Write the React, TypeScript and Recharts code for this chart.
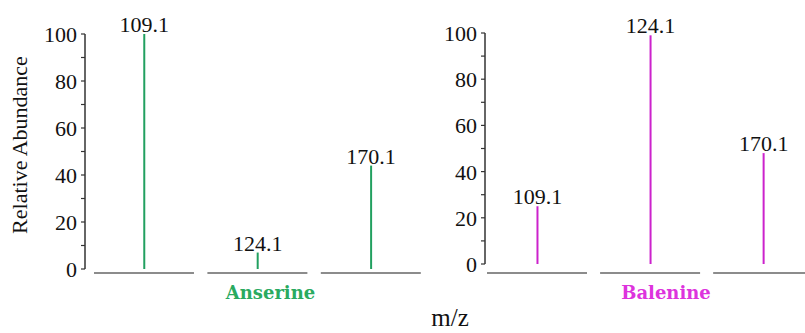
import { BarChart, Bar, XAxis, YAxis, LabelList } from "recharts";

// fragment ions (m/z) shown in each spectrum
const ions = ["109.1", "124.1", "170.1"];
const anserineAbundance = [100, 7, 44];
const balenineAbundance = [25, 99, 48];
const yTicks = [0, 10, 20, 30, 40, 50, 60, 70, 80, 90, 100];

const SERIF = "Liberation Serif, Times New Roman, serif";
const BOLD_SERIF = "DejaVu Serif, serif";

const buildRows = (values: number[]) =>
  ions.map((ion, i) => ({ pos: i, ion, abundance: values[i] }));

const anserineRows = buildRows(anserineAbundance);
const balenineRows = buildRows(balenineAbundance);

// only every other tick gets a number
const YTick = (props: any) => {
  const { x, y, payload } = props;
  if (payload.value % 20 !== 0) return <g />;
  return (
    <text x={x} y={y} dy={8} textAnchor="end" fontFamily={SERIF} fontSize={22} fill="#111">
      {payload.value}
    </text>
  );
};

// each peak sits on its own short baseline piece
const segmentTick = (drop: number) => (props: any) => {
  const { x, y } = props;
  return <line x1={x - 50} x2={x + 50} y1={y + drop} y2={y + drop} stroke="#666" strokeWidth={1.5} />;
};

const panelLabel = (text: string, color: string, shift: number, drop: number) => (props: any) => {
  const vb = props.viewBox;
  return (
    <text
      x={vb.x + vb.width / 2 + shift}
      y={vb.y + drop + 26}
      textAnchor="middle"
      fontFamily={BOLD_SERIF}
      fontWeight="bold"
      fontSize={18}
      fill={color}
    >
      {text}
    </text>
  );
};

function Spectrum({
  rows,
  color,
  labelColor,
  name,
  width,
  top,
  bottom,
  domain,
  drop,
  shift,
  children,
}: any) {
  return (
    <BarChart width={width} height={333} data={rows} margin={{ top, right: 0, bottom, left: 0 }}>
      <XAxis
        dataKey="pos"
        type="number"
        domain={domain}
        ticks={[0, 1, 2]}
        interval={0}
        allowDataOverflow
        height={40}
        axisLine={false}
        tickLine={false}
        tickSize={0}
        tickMargin={0}
        tick={segmentTick(drop)}
        label={{ content: panelLabel(name, labelColor, shift, drop) }}
      />
      <YAxis
        width={85}
        domain={[0, 100]}
        ticks={yTicks}
        interval={0}
        tickSize={4}
        tickMargin={4}
        tick={<YTick />}
        axisLine={{ stroke: "#333", strokeWidth: 1.5 }}
        tickLine={{ stroke: "#333", strokeWidth: 1.2 }}
      />
      <Bar dataKey="abundance" fill={color} barSize={2} isAnimationActive={false}>
        <LabelList dataKey="ion" position="top" offset={2} fill="#111" fontSize={22} fontFamily={SERIF} />
      </Bar>
      {children}
    </BarChart>
  );
}

export default function App() {
  return (
    <div
      style={{
        position: "absolute",
        left: 0,
        top: 0,
        width: 805,
        height: 333,
        overflow: "hidden",
        background: "#fff",
      }}
    >
      <div style={{ position: "absolute", left: 0, top: 0 }}>
        <Spectrum
          rows={anserineRows}
          color="#22a060"
          labelColor="#2aaa5f"
          name="Anserine"
          width={440}
          top={34}
          bottom={24}
          domain={[-0.52, 2.61]}
          drop={4}
          shift={8}
        >
          <text
            x={27}
            y={145}
            transform="rotate(-90, 27, 145)"
            textAnchor="middle"
            fontFamily={SERIF}
            fontSize={22}
            fill="#111"
          >
            Relative Abundance
          </text>
        </Spectrum>
      </div>
      <div style={{ position: "absolute", left: 400, top: 0 }}>
        <Spectrum
          rows={balenineRows}
          color="#cc22cc"
          labelColor="#dd33dd"
          name="Balenine"
          width={405}
          top={33}
          bottom={29}
          domain={[-0.46, 2.37]}
          drop={9}
          shift={21}
        >
          <text x={50} y={326} textAnchor="middle" fontFamily={SERIF} fontSize={25} fill="#111">
            m/z
          </text>
        </Spectrum>
      </div>
    </div>
  );
}
